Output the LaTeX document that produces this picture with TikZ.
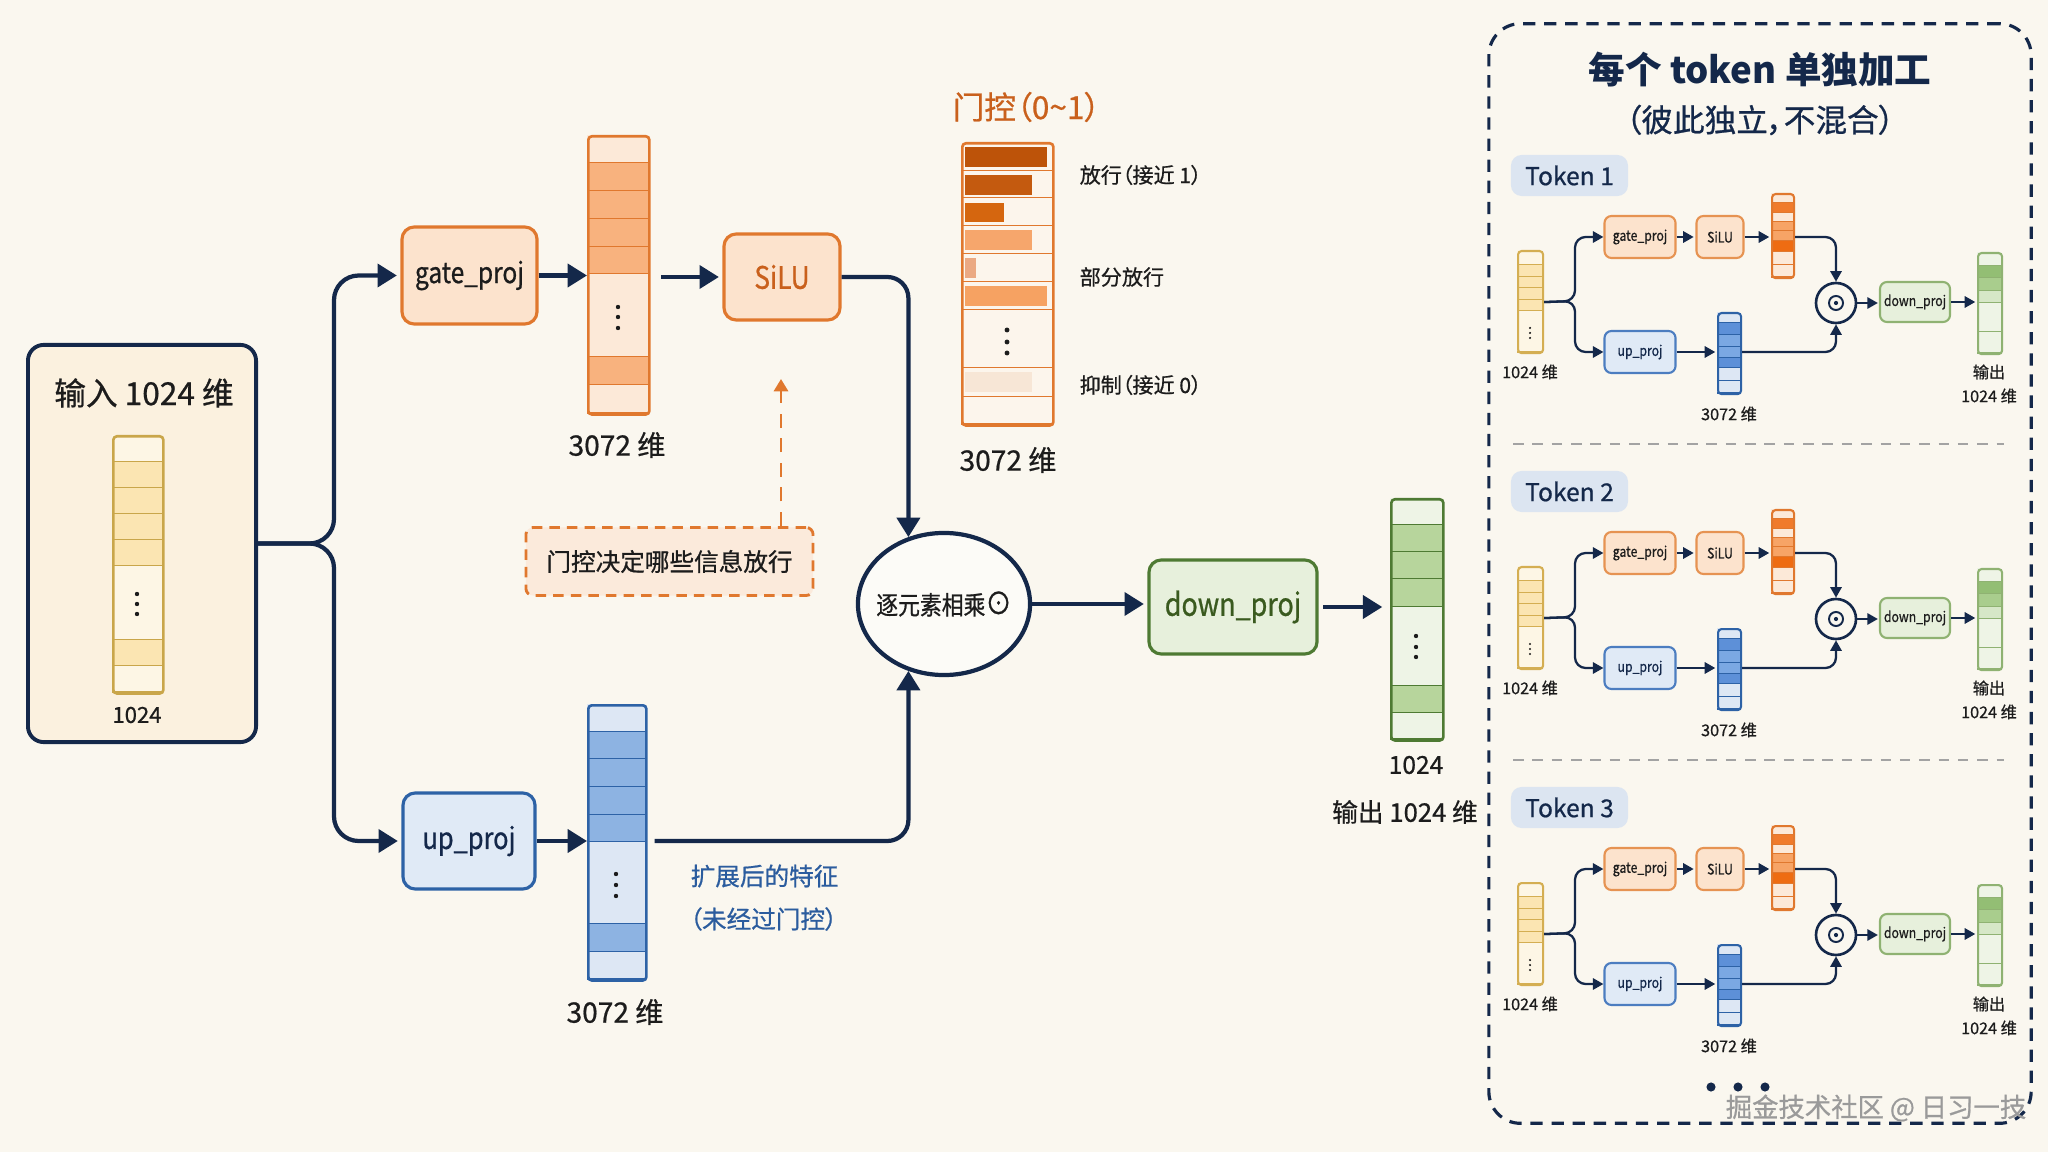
\documentclass[tikz,border=0pt]{standalone}
\usepackage{fontspec}
\setmainfont{Noto Sans CJK SC}[RawFeature=+palt, UprightFeatures={FakeBold=0.7}]
\newfontfamily\cnd{Noto Sans CJK SC}[FakeStretch=0.85, RawFeature=+palt, UprightFeatures={FakeBold=0.7}]
\usetikzlibrary{arrows.meta,shapes.geometric}
\definecolor{bg}{HTML}{FAF7EF}
\definecolor{navy}{HTML}{14284A}
\definecolor{ink}{HTML}{1C1C1C}
\definecolor{orgB}{HTML}{E0782E}
\definecolor{orgF}{HTML}{FCE3CD}
\definecolor{orgT}{HTML}{C9601C}
\definecolor{bluB}{HTML}{2D62A6}
\definecolor{bluF}{HTML}{E0EAF6}
\definecolor{grnB}{HTML}{4E7A33}
\definecolor{grnF}{HTML}{E7F0DC}
\definecolor{grnT}{HTML}{3A5A1F}
\definecolor{inF}{HTML}{FBF1DF}
\definecolor{ylB}{HTML}{C9A64A}
\definecolor{yl}{HTML}{FDF6E5}
\definecolor{ys}{HTML}{FBE5B2}
\definecolor{ol}{HTML}{FCE9D8}
\definecolor{os}{HTML}{F8B27E}
\definecolor{bl}{HTML}{DDE7F4}
\definecolor{bs}{HTML}{8DB3E2}
\definecolor{gl}{HTML}{EEF4E6}
\definecolor{gs}{HTML}{B7D59C}
\definecolor{noteF}{HTML}{FBEADB}
\definecolor{blueT}{HTML}{2B5C9E}
\definecolor{gcell}{HTML}{FCF5EC}
\definecolor{tokF}{HTML}{DCE5F1}
\definecolor{sepC}{HTML}{A3A3A3}
\definecolor{wmC}{HTML}{9A9A9A}
\definecolor{od}{HTML}{F07B2C}
\definecolor{om}{HTML}{F7A466}
\definecolor{odd}{HTML}{EE6C12}
\definecolor{bd}{HTML}{5D90D8}
\definecolor{bm}{HTML}{7BA8E3}
\definecolor{gd}{HTML}{93BE74}
\definecolor{gm}{HTML}{A9CD8D}
\definecolor{gll}{HTML}{D6E7C7}
\definecolor{mgB}{HTML}{E69352}
\definecolor{mbB}{HTML}{4C7DC0}
\definecolor{mgrB}{HTML}{8FB272}
\definecolor{mylB}{HTML}{D4AE52}
\definecolor{barA}{HTML}{BD5309}
\definecolor{barB}{HTML}{C45A0F}
\definecolor{barC}{HTML}{D5660F}
\definecolor{barD}{HTML}{F6A66C}
\definecolor{barE}{HTML}{EBA983}
\definecolor{barF}{HTML}{F6A262}
\definecolor{barG}{HTML}{F7E6D6}

\newcommand\drawcells[5]{%
  \foreach \ya/\yb/\cc in {#3}{%
    \fill[\cc] (#1,\ya) rectangle (#1+#2,\yb);
    \draw[#4, line width=#5] (#1,\yb) -- (#1+#2,\yb);
  }}

\tikzset{
  arr/.style={navy, line width=1.2pt, -{Triangle[length=5.5pt,width=6.5pt]}},
  marr/.style={navy, line width=0.65pt, -{Triangle[length=3pt,width=3.2pt]}},
  bigbox/.style={rounded corners=3.5pt, line width=0.9pt, inner sep=0pt},
  gatestyle/.style={bigbox, draw=orgB, fill=orgF},
  upstyle/.style={bigbox, draw=bluB, fill=bluF, text=navy},
  downstyle/.style={bigbox, draw=grnB, fill=grnF, text=grnT},
  vframe/.style={draw=#1, rounded corners=1pt, inner sep=0pt, anchor=north west},
  minibox/.style={rounded corners=2pt, line width=0.6pt, inner sep=0pt, font=\cnd\fontsize{4.1}{5}\selectfont},
  mgate/.style={minibox, draw=mgB, fill=orgF, text=ink},
  mup/.style={minibox, draw=mbB, fill=bluF, text=navy},
  mdown/.style={minibox, draw=mgrB, fill=grnF, text=ink},
  minilbl/.style={font=\fontsize{4.6}{5}\selectfont, text=ink, inner sep=0pt},
  toklbl/.style={fill=tokF, rounded corners=3pt, minimum width=1.17cm, minimum height=0.41cm, inner sep=0pt, text=navy, font=\fontsize{7}{8}\selectfont},
  sidelbl/.style={anchor=west, inner sep=0pt},
}

\newcommand\minitok[2]{%
\begin{scope}[shift={(0,#2)}]
  \node[toklbl] (tl#1) at (1569.5,175.5) {Token #1};
  % input mini vector
  \drawcells{1517}{25}{250/265/yl,265/277/ys,277/288/ys,288/300/ys,300/311/ys,311/352/yl}{mylB}{0.4pt}
  \node[vframe=mylB, line width=0.6pt, minimum width=0.25cm, minimum height=1.02cm] (mi#1) at (1517,250) {};
  \foreach \yy in {328,333,338} \fill[ink] (1530,\yy) circle (0.35pt);
  \node[minilbl] (mil#1) at (1530,372) {1024 维};
  % boxes
  \node[mgate, minimum width=0.71cm, minimum height=0.42cm] (mg#1) at (1640,237) {gate\_proj};
  \node[mgate, minimum width=0.47cm, minimum height=0.42cm] (ms#1) at (1720,237) {SiLU};
  \node[mup, minimum width=0.71cm, minimum height=0.42cm] (mu#1) at (1640,352) {up\_proj};
  \node[mdown, minimum width=0.70cm, minimum height=0.40cm] (md#1) at (1915,302) {down\_proj};
  % orange mini vector
  \drawcells{1771}{22}{193/203/ol,203/213/od,213/222/ol,222/231/om,231/241/om,241/252/odd,252/265/ol,265/277/ol}{orgB}{0.4pt}
  \node[vframe=orgB, line width=0.6pt, minimum width=0.22cm, minimum height=0.84cm] (mo#1) at (1771,193) {};
  % blue mini vector
  \drawcells{1717}{23}{312/323/bl,323/335/bd,335/347/bm,347/358/bm,358/368/bd,368/381/bl,381/393/bl}{bluB}{0.4pt}
  \node[vframe=bluB, line width=0.6pt, minimum width=0.23cm, minimum height=0.81cm] (mb#1) at (1717,312) {};
  \node[minilbl] (mbl#1) at (1729,414) {3072 维};
  % green mini vector
  \drawcells{1977}{24}{252/266/gl,266/278/gd,278/291/gm,291/303/gll,303/332/gl,332/353/gl}{mgrB}{0.4pt}
  \node[vframe=mgrB, line width=0.6pt, minimum width=0.24cm, minimum height=1.01cm] (mr#1) at (1977,252) {};
  \node[minilbl] (mrl#1) at (1989,372) {输出};
  \node[minilbl] (mrm#1) at (1989,396) {1024 维};
  % multiply circle
  \node[circle, draw=navy, line width=0.75pt, fill=bg, minimum size=0.40cm, inner sep=0pt] (mm#1) at (1836,303) {};
  \draw[navy, line width=0.55pt] (mm#1.center) circle (2pt);
  \fill[navy] (mm#1.center) circle (0.6pt);
  % connectors
  \draw[marr, rounded corners=3pt] (mi#1.east) -- (1575,301) |- (mg#1.west);
  \draw[marr, rounded corners=3pt] (mi#1.east) -- (1575,301) |- (mu#1.west);
  \draw[marr, shorten >=0.5pt] (mg#1.east) -- (ms#1.west);
  \draw[marr, shorten >=0.5pt] (ms#1.east) -- (ms#1.east -| mo#1.west);
  \draw[marr, rounded corners=3pt] (mo#1.east |- ms#1.east) -| (mm#1.north);
  \draw[marr, shorten >=0.5pt] (mu#1.east) -- (mu#1.east -| mb#1.west);
  \draw[marr, rounded corners=3pt] (mb#1.east |- mu#1.east) -| (mm#1.south);
  \draw[marr, shorten >=0.3pt] (mm#1.east) -- (mm#1.east -| md#1.west);
  \draw[marr, shorten >=0.5pt] (md#1.east) -- (md#1.east -| mr#1.west);
\end{scope}}

\begin{document}
\begin{tikzpicture}[x=0.01cm,y=-0.01cm,font=\fontsize{8}{10}\selectfont]
\fill[bg] (0,0) rectangle (2048,1152);
\useasboundingbox (0,0) rectangle (2048,1152);

% ---------- input ----------
\node[draw=navy, fill=inF, line width=1.1pt, rounded corners=4.5pt, minimum width=2.28cm, minimum height=3.97cm, inner sep=0pt] (inbox) at (142,543.5) {};
\node[font=\fontsize{9}{11}\selectfont, text=ink] (intitle) at (144,393) {输入 1024 维};
\drawcells{112}{50}{435/462/yl,462/488/ys,488/514/ys,514/540/ys,540/566/ys,566/640/yl,640/666/ys,666/692/yl}{ylB}{0.6pt}
\node[vframe=ylB, line width=0.75pt, minimum width=0.50cm, minimum height=2.57cm] (invec) at (112,435) {};
\foreach \yy in {594,604,614} \fill[ink] (137,\yy) circle (0.62pt);
\node[font=\fontsize{6.3}{8}\selectfont, text=ink] (in1024) at (137,715) {1024};

% ---------- gate branch ----------
\node[gatestyle, minimum width=1.35cm, minimum height=0.97cm, font=\cnd\fontsize{8.2}{10}\selectfont, text=ink] (gate) at (469.5,275.5) {gate\_proj};
\drawcells{587}{61}{135/163/ol,163/191/os,191/219/os,219/247/os,247/274/os,274/357/ol,357/385/os,385/413/ol}{orgB}{0.6pt}
\node[vframe=orgB, line width=0.75pt, minimum width=0.61cm, minimum height=2.78cm] (gvec) at (587,135) {};
\foreach \yy in {307,317,328} \fill[ink] (618,\yy) circle (0.62pt);
\node[text=ink] (glbl) at (617,445) {3072 维};
\node[gatestyle, minimum width=1.16cm, minimum height=0.86cm, font=\cnd\fontsize{8.8}{10}\selectfont, text=orgT] (silu) at (782,277) {SiLU};

% ---------- up branch ----------
\node[upstyle, minimum width=1.32cm, minimum height=0.96cm, font=\cnd\fontsize{8.5}{10}\selectfont] (up) at (469,841) {up\_proj};
\drawcells{587}{58}{704/732/bl,732/759/bs,759/787/bs,787/815/bs,815/842/bs,842/924/bl,924/952/bs,952/979/bl}{bluB}{0.6pt}
\node[vframe=bluB, line width=0.75pt, minimum width=0.58cm, minimum height=2.75cm] (upvec) at (587,704) {};
\foreach \yy in {874,885,896} \fill[ink] (616,\yy) circle (0.62pt);
\node[text=ink] (ulbl) at (615,1012) {3072 维};
\node[sidelbl, text=blueT, font=\fontsize{7}{8}\selectfont] (ext1) at (690,876) {扩展后的特征};
\node[sidelbl, text=blueT, font=\fontsize{7}{8}\selectfont] (ext2) at (689,919) {（未经过门控）};

% ---------- gate values ----------
\node[sidelbl, text=orgT, font=\fontsize{9}{10}\selectfont] (gtitle) at (952,107) {门控（0\textasciitilde1）};
\drawcells{961}{91}{142/171/gcell,171/198/gcell,198/226/gcell,226/254/gcell,254/282/gcell,282/310/gcell,310/368/gcell,368/397/gcell,397/424/gcell}{orgB}{0.6pt}
\fill[barA] (965,147) rectangle (1047,167);
\fill[barB] (965,175) rectangle (1032,195);
\fill[barC] (965,203) rectangle (1004,222);
\fill[barD] (965,230) rectangle (1032,250);
\fill[barE] (965,258) rectangle (976,278);
\fill[barF] (965,286) rectangle (1047,306);
\fill[barG] (965,372) rectangle (1032,392);
\node[vframe=orgB, line width=0.75pt, minimum width=0.91cm, minimum height=2.82cm] (gval) at (961,142) {};
\foreach \yy in {330,342,353} \fill[ink] (1007,\yy) circle (0.7pt);
\node[sidelbl, text=ink, font=\fontsize{6}{7}\selectfont] (gl1) at (1079,175) {放行（接近 1）};
\node[sidelbl, text=ink, font=\fontsize{6}{7}\selectfont] (gl2) at (1079,277) {部分放行};
\node[sidelbl, text=ink, font=\fontsize{6}{7}\selectfont] (gl3) at (1079,385) {抑制（接近 0）};
\node[text=ink] (gvlbl) at (1008,460) {3072 维};

% ---------- multiply and output ----------
\node[ellipse, draw=navy, line width=1.2pt, fill=bg!50!white, minimum width=1.72cm, minimum height=1.42cm, inner xsep=-3pt, inner ysep=0pt, font=\cnd\fontsize{7.3}{8}\selectfont, text=ink] (mul) at (944,604) {逐元素相乘{\fontsize{8.8}{8}\selectfont ⊙}};
\node[draw=orgB, dash pattern=on 3pt off 2pt, fill=noteF, rounded corners=2pt, line width=0.8pt, minimum width=2.87cm, minimum height=0.68cm, inner sep=0pt, font=\fontsize{7}{8}\selectfont, text=ink] (note) at (669.5,561.5) {门控决定哪些信息放行};
\coordinate (hint) at (781,379);
\draw[orgB, line width=0.8pt, dash pattern=on 4pt off 3pt, -{Triangle[length=3.5pt,width=4pt]}] (note.north -| hint) -- (hint);
\node[downstyle, minimum width=1.68cm, minimum height=0.94cm, font=\cnd\fontsize{9}{10}\selectfont] (down) at (1233,607) {down\_proj};
\drawcells{1390}{52}{498/525/gl,525/552/gs,552/579/gs,579/607/gs,607/686/gl,686/713/gs,713/739/gl}{grnB}{0.6pt}
\node[vframe=grnB, line width=0.75pt, minimum width=0.52cm, minimum height=2.41cm] (outvec) at (1390,498) {};
\foreach \yy in {636,647,657} \fill[ink] (1416,\yy) circle (0.62pt);
\node[font=\fontsize{7}{8}\selectfont, text=ink] (out1024) at (1416,765) {1024};
\node[font=\fontsize{7.3}{9}\selectfont, text=ink] (outlbl) at (1405,812) {输出 1024 维};

% ---------- main connectors ----------
\draw[arr, rounded corners=7pt, shorten >=1pt] (inbox.east) -- (334,543.5) |- (gate.west);
\draw[arr, rounded corners=7pt, shorten >=1pt] (inbox.east) -- (334,543.5) |- (up.west);
\draw[arr] (gate.east) -- (gate.east -| gvec.west);
\draw[arr, shorten <=3pt, shorten >=1pt] (gvec.east |- silu.west) -- (silu.west);
\draw[arr, rounded corners=6pt] (silu.east) -| (mul.118);
\draw[arr] (up.east) -- (up.east -| upvec.west);
\draw[arr, rounded corners=6pt, shorten <=2pt] (upvec.east |- up.east) -| (mul.242);
\draw[arr, shorten >=1pt] (mul.east) -- (mul.east -| down.west);
\draw[arr, shorten <=1.3pt, shorten >=2.2pt] (down.east) -- (down.east -| outvec.west);

% ---------- right panel ----------
\node[draw=navy, dash pattern=on 3.5pt off 2.5pt, line width=0.9pt, rounded corners=9pt, minimum width=5.42cm, minimum height=10.99cm, inner sep=0pt] (panel) at (1760,573.5) {};
\node[font=\fontsize{10.4}{13}\selectfont\bfseries, text=navy] (ptitle) at (1760,70) {每个 token 单独加工};
\node[font=\fontsize{9}{10}\selectfont, text=navy] (psub) at (1760,120) {（彼此独立，不混合）};
\minitok{1}{0}
\minitok{2}{316}
\minitok{3}{632}
\draw[sepC, line width=0.6pt, dash pattern=on 3pt off 2.5pt] (1513,444) -- (2004,444);
\draw[sepC, line width=0.6pt, dash pattern=on 3pt off 2.5pt] (1513,760) -- (2004,760);
\foreach \xx in {1711,1738,1765} \fill[navy] (\xx,1087) circle (1.3pt);
\node[text=wmC, font=\fontsize{7.5}{9}\selectfont] (wm) at (1876,1108) {掘金技术社区 @ 日习一技};
\end{tikzpicture}
\end{document}
